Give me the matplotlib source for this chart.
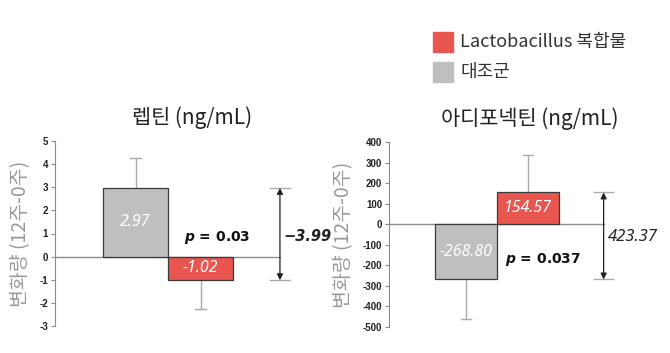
import matplotlib.pyplot as plt
from matplotlib.patches import Rectangle

plt.rcParams['font.family'] = ['Noto Sans CJK KR', 'DejaVu Sans']

groups = ["대조군", "Lactobacillus 복합물"]
colors = ["#bfbfbf", "#e8564f"]

leptin_vals = [2.97, -1.02]
leptin_err = [1.28, 1.25]
leptin_p = "0.03"
leptin_diff = "\u22123.99"

adipo_vals = [-268.80, 154.57]
adipo_err = [191.0, 180.0]
adipo_p = "0.037"
adipo_diff = "423.37"

W, H = 670, 353
fig = plt.figure(figsize=(W / 100, H / 100), dpi=100)


def px_axes(x0, x1, ytop, ybot):
    return fig.add_axes([x0 / W, 1 - ybot / H, (x1 - x0) / W, (ybot - ytop) / H])


def panel(ax, xr, vals, errs, ylim, step, title, pval, diff, dstyle, ptext_xy, dtext_xy):
    ax.set_xlim(-1.24, xr)
    ax.set_ylim(*ylim)
    for i, (v, e) in enumerate(zip(vals, errs)):
        ax.bar(i, v, width=1.0, color=colors[i], edgecolor="#3a3a3a", linewidth=0.9, zorder=3)
        sign = 1 if v > 0 else -1
        ax.plot([i, i], [v, v + sign * e], color="#aaaaaa", lw=1, zorder=2)
        ax.plot([i - 0.08, i + 0.08], [v + sign * e] * 2, color="#aaaaaa", lw=1, zorder=2)
        txt = f"{v:.2f}".replace("-", "\u2212")
        ax.text(i, v / 2, txt, ha="center", va="center", color="white", style="italic",
                fontsize=11.5, family=["Noto Sans", "DejaVu Sans"], zorder=4)
    ax.plot([-1.24, 2.22], [0, 0], color="#8c8c8c", lw=1, zorder=1, clip_on=False)
    # bracket
    bx = 2.22
    top, bot = max(vals), min(vals)
    ax.plot([bx - 0.15, bx + 0.15], [top, top], color="#aaaaaa", lw=1)
    ax.plot([bx - 0.15, bx + 0.15], [bot, bot], color="#aaaaaa", lw=1)
    ax.annotate("", xy=(bx, top), xytext=(bx, bot),
                arrowprops=dict(arrowstyle="<|-|>", color="#222222", lw=0.9,
                                mutation_scale=9, shrinkA=0, shrinkB=0))
    ax.text(*dtext_xy, diff, ha="left", va="center", style="italic", color="#222222", **dstyle)
    ax.text(*ptext_xy, r"$\boldsymbol{p}$ = " + pval, ha="center", va="center",
            fontweight="bold", fontsize=10, family=["DejaVu Sans"], color="#111111")
    for s in ["top", "right", "bottom"]:
        ax.spines[s].set_visible(False)
    ax.spines["left"].set_color("#8c8c8c")
    ax.set_xticks([])
    ticks = list(range(int(ylim[0]), int(ylim[1]) + 1, step))
    ax.set_yticks(ticks)
    ax.set_yticklabels([str(t) for t in ticks], fontsize=7, fontweight="bold",
                       family=["Liberation Sans"], color="#222222")
    ax.tick_params(axis="y", length=3, color="#8c8c8c", pad=2)
    ax.set_title(title, fontsize=15, pad=12, color="#222222")
    ax.set_ylabel("변화량 (12주-0주)", fontsize=14, color="#999999", labelpad=6)


ax1 = px_axes(55, 330, 141, 326)
panel(ax1, 2.99, leptin_vals, leptin_err, (-3, 5), 1, "렙틴 (ng/mL)", leptin_p, leptin_diff,
      dict(fontweight="bold", fontsize=10.5, family=["DejaVu Sans"]),
      (1.25, 0.82), (2.27, 0.86))

ax2 = px_axes(389, 670, 142, 327)
panel(ax2, 3.29, adipo_vals, adipo_err, (-500, 400), 100, "아디포넥틴 (ng/mL)", adipo_p,
      adipo_diff, dict(fontsize=12, family=["Noto Sans", "DejaVu Sans"]),
      (1.24, -170), (2.29, -63))

# legend
for i, (yc, lab) in enumerate([(42, groups[1]), (72, groups[0])]):
    fig.patches.append(Rectangle((433 / W, 1 - (yc + 10) / H), 20 / W, 20 / H,
                                 transform=fig.transFigure, color=colors[1 - i]))
    fig.text(460 / W, 1 - yc / H, lab, ha="left", va="center", fontsize=13,
             color="#333333")

fig.savefig("out.png", dpi=100)
